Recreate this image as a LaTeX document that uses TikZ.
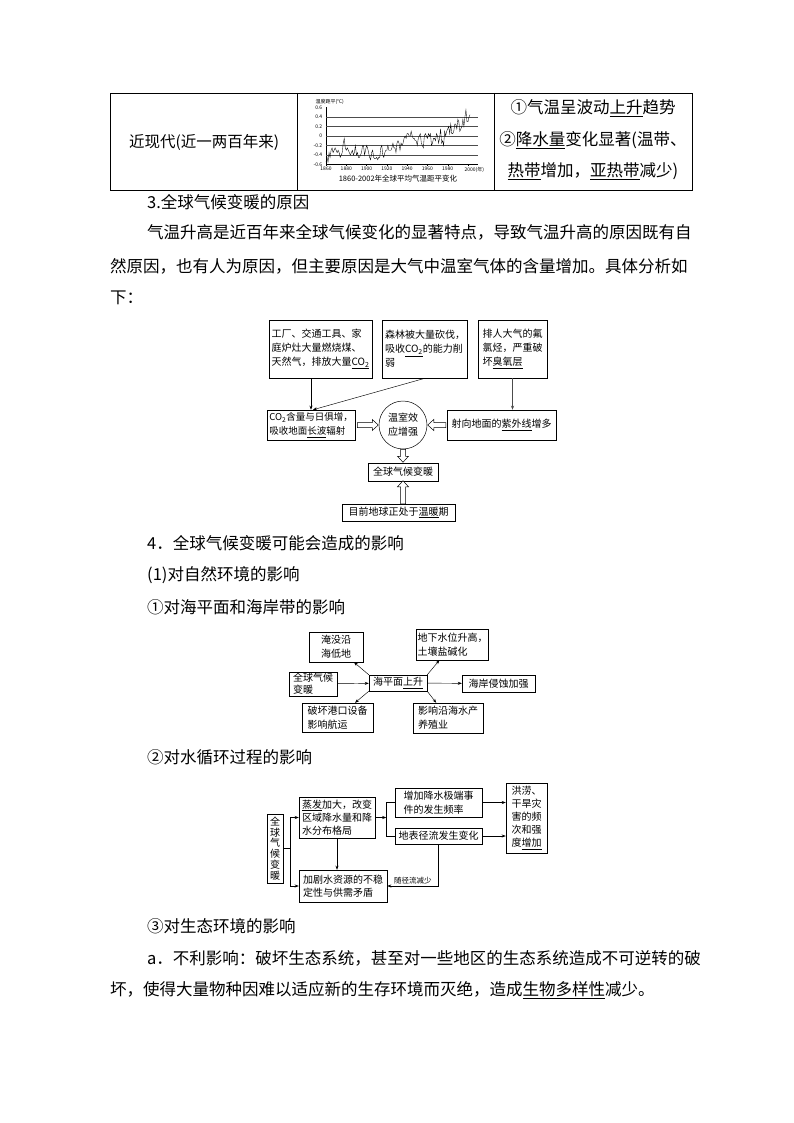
\documentclass[tikz,border=0pt]{standalone}
\usepackage{fontspec}
\setmainfont{Noto Sans CJK SC}
\usetikzlibrary{arrows.meta,calc}

\tikzset{
  box/.style={draw,line width=.5pt,inner sep=1.5pt,align=left,font=\fontsize{10}{14}\selectfont},
  body/.style={anchor=west,inner sep=0pt,font=\fontsize{16.5}{20}\selectfont},
  arr/.style={-{Stealth[length=4pt,width=3pt]},line width=.45pt},
  hollow/.pic={\draw[fill=white,line width=.5pt] (0,2.5) -- (#1-6,2.5) -- (#1-6,5.5) -- (#1,0) -- (#1-6,-5.5) -- (#1-6,-2.5) -- (0,-2.5) -- cycle;},
  chart/.style={font=\fontsize{5}{5}\selectfont,inner sep=.5pt}
}

\begin{document}
\begin{tikzpicture}[x=1pt,y=-1pt]
\useasboundingbox[fill=white] (0,0) rectangle (794,1123);
\draw[line width=.8pt] (110,93) rectangle (692,190);
\draw[line width=.8pt] (297,93) -- (297,190);
\draw[line width=.8pt] (494,93) -- (494,190);
\node[inner sep=0pt,font=\fontsize{15.5}{20}\selectfont] (era) at (204,142) {近现代(近一两百年来)};
\node[inner sep=0pt,align=center,font=\fontsize{16.5}{31.5}\selectfont] (trend) at (593,140) {①气温呈波动\underline{上升}趋势\\②\underline{降水量}变化显著(温带、\\\underline{热带}增加，\underline{亚热带}减少)};
\begin{scope}[shift={(326,136)},x=1.014pt,y=47.5pt]
\draw[line width=.4pt] (0,.6) -- (0,-.6) -- (150,-.6);
\foreach \v in {.4,.2,0,-.2,-.4}
  \draw[black!70,line width=.4pt] (0,\v) -- (150,\v);
\foreach \v/\t in {.6/0.6,.4/0.4,.2/0.2,0/0,-.2/-0.2,-.4/-0.4,-.6/-0.6}
  \node[chart,anchor=east] (yl\t) at (-3,\v) {\t};
\foreach \yr in {0,20,...,140}{
  \draw[line width=.3pt] (\yr,-.6) -- (\yr,-.64);
}
\foreach \yr/\t in {0/1860,20/1880,40/1900,60/1920,80/1940,100/1960,120/1980}
  \node[chart,anchor=north] (xl\t) at (\yr,-.64) {\t};
\node[chart,anchor=north west] (xl2000) at (136,-.64) {2000(年)};
\node[chart,anchor=west] (ttl) at (-11,.72) {温度距平(℃)};
\draw[line width=.35pt] plot coordinates {(0,-.55) (1,-.45) (2,-.55) (3,-.35) (4,-.45) (5,-.3) (6,-.25) (7,-.35) (8,-.3) (9,-.25) (10,-.3) (11,-.35) (12,-.3) (13,-.35) (14,-.45) (15,-.4) (16,-.35) (17,-.15) (18,-.05) (19,-.25) (20,-.3) (21,-.25) (22,-.3) (23,-.35) (24,-.4) (25,-.35) (26,-.3) (27,-.4) (28,-.35) (29,-.2) (30,-.4) (31,-.35) (32,-.45) (33,-.45) (34,-.4) (35,-.35) (36,-.2) (37,-.2) (38,-.4) (39,-.3) (40,-.2) (41,-.25) (42,-.35) (43,-.45) (44,-.5) (45,-.35) (46,-.3) (47,-.45) (48,-.48) (49,-.48) (50,-.45) (51,-.5) (52,-.45) (53,-.45) (54,-.25) (55,-.2) (56,-.4) (57,-.45) (58,-.35) (59,-.3) (60,-.3) (61,-.2) (62,-.3) (63,-.3) (64,-.3) (65,-.25) (66,-.15) (67,-.25) (68,-.25) (69,-.35) (70,-.15) (71,-.1) (72,-.15) (73,-.3) (74,-.15) (75,-.2) (76,-.15) (77,-.05) (78,0) (79,-.05) (80,.05) (81,.05) (82,0) (83,0) (84,.1) (85,0) (86,-.05) (87,-.05) (88,-.1) (89,-.1) (90,-.2) (91,-.05) (92,0) (93,.05) (94,-.15) (95,-.2) (96,-.25) (97,0) (98,.05) (99,0) (100,-.05) (101,.05) (102,0) (103,.05) (104,-.2) (105,-.15) (106,-.05) (107,-.05) (108,-.1) (109,.05) (110,0) (111,-.15) (112,-.05) (113,.15) (114,-.15) (115,-.1) (116,-.2) (117,.1) (118,0) (119,.1) (120,.15) (121,.2) (122,.05) (123,.25) (124,.05) (125,.05) (126,.1) (127,.25) (128,.25) (129,.15) (130,.35) (131,.3) (132,.1) (133,.15) (134,.2) (135,.35) (136,.2) (137,.4) (138,.55) (139,.3) (140,.3) (141,.4) (142,.45)};
\end{scope}
\node[inner sep=0pt,font=\fontsize{7.5}{8}\selectfont] (cap) at (398,179) {1860-2002年全球平均气温距平变化};
\node[body] (h3) at (147,202) {3.全球气候变暖的原因};
\node[body] (p1) at (147,232) {气温升高是近百年来全球气候变化的显著特点，导致气温升高的原因既有自};
\node[body] (p2) at (110,266) {然原因，也有人为原因，但主要原因是大气中温室气体的含量增加。具体分析如};
\node[body] (p3) at (110,298) {下：};
\node[box,minimum width=103pt,minimum height=58pt] (factory) at (320.5,349) {工厂、交通工具、家\\庭炉灶大量燃烧煤、\\天然气，排放大量\underline{CO\textsubscript{2}}};
\node[box,minimum width=85pt,minimum height=58pt] (forest) at (425,349) {森林被大量砍伐，\\吸收\underline{CO\textsubscript{2}}的能力削\\弱};
\node[box,minimum width=69pt,minimum height=58pt] (cfc) at (512.5,349) {排人大气的氟\\氯烃，严重破\\坏\underline{臭氧层}};
\node[box,minimum width=88pt,minimum height=30pt,inner sep=1pt,font=\fontsize{9.5}{14}\selectfont] (co2) at (311,425) {CO\textsubscript{2}含量与日俱增，\\吸收地面\underline{长波}辐射};
\node[draw,circle,line width=.5pt,minimum size=48pt,inner sep=0pt,align=center,font=\fontsize{10}{14}\selectfont] (ghe) at (403,425) {温室效\\应增强};
\node[box,minimum width=109pt,minimum height=30pt] (uv) at (501.5,425) {射向地面的\underline{紫外线}增多};
\node[box,minimum width=70pt,minimum height=18pt] (warm) at (403,472) {全球气候变暖};
\node[box,minimum width=113pt,minimum height=17pt] (now) at (398.5,512.5) {目前地球正处于\underline{温暖}期};
\draw[arr] (co2.north |- factory.south) -- (co2.north);
\draw[arr] (forest.south) -- ([xshift=2pt]co2.north);
\draw[arr,black!70] (cfc.south) -- (cfc.south |- uv.north);
\pic at ([xshift=2pt]co2.east) {hollow=21};
\pic[rotate=180] at ([xshift=-1pt]uv.west) {hollow=18};
\pic[rotate=-90] at (ghe.south) {hollow=13};
\pic[rotate=90] at (warm.south |- now.north) {hollow=23};
\node[body] (h4) at (147,543) {4．全球气候变暖可能会造成的影响};
\node[body] (s1) at (147,575) {(1)对自然环境的影响};
\node[body] (s2) at (147,607) {①对海平面和海岸带的影响};
\node[box,minimum width=54pt,minimum height=30pt] (drown) at (336,647) {淹没沿\\海低地};
\node[box,minimum width=71pt,minimum height=31pt,inner sep=1pt] (ground) at (452.5,644.5) {地下水位升高，\\土壤盐碱化};
\node[box,minimum width=48pt,minimum height=24pt,inner sep=1pt,font=\fontsize{10}{12}\selectfont] (gw2) at (313,684) {全球气候\\变暖};
\node[box,minimum width=58pt,minimum height=16pt] (sea) at (398,683) {海平面\underline{上升}};
\node[box,minimum width=73pt,minimum height=17pt] (erosion) at (498.5,683.5) {海岸侵蚀加强};
\node[box,minimum width=71pt,minimum height=29pt] (port) at (337.5,717.5) {破坏港口设备\\影响航运};
\node[box,minimum width=70pt,minimum height=30pt] (aqua) at (448,718) {影响沿海水产\\养殖业};
\draw[arr] (gw2) -- (sea);
\draw[arr] (sea) -- (erosion);
\draw[arr] (sea.north west) -- (drown);
\draw[arr] (sea.north east) -- (ground);
\draw[arr] (sea.south west) -- (port);
\draw[arr] (sea.south east) -- (aqua);
\node[body] (s3) at (147,757) {②对水循环过程的影响};
\node[box,minimum width=16pt,minimum height=69pt,inner sep=1pt,align=center,font=\fontsize{10}{10.8}\selectfont] (gw3) at (275,848.5) {全\\球\\气\\候\\变\\暖};
\node[box,minimum width=76pt,minimum height=41pt,inner sep=1pt,font=\fontsize{10}{13}\selectfont] (evap) at (337,817.5) {\underline{蒸发}加大，改变\\区域降水量和降\\水分布格局};
\node[box,minimum width=87pt,minimum height=29pt] (extreme) at (438.5,802.5) {增加降水极端事\\件的发生频率};
\node[box,minimum width=87pt,minimum height=16pt] (runoff) at (438.5,836) {地表径流发生变化};
\node[box,minimum width=41pt,minimum height=70pt,font=\fontsize{10}{13}\selectfont] (flood) at (526.5,818) {洪涝、\\干旱灾\\害的频\\次和强\\度\underline{增加}};
\node[box,minimum width=88pt,minimum height=32pt,font=\fontsize{10}{13}\selectfont] (water) at (343,886) {加剧水资源的不稳\\定性与供需矛盾};
\coordinate (j1) at ($(gw3.east)+(7,0)$);
\coordinate (j2) at ($(evap.east)+(11,0)$);
\draw[line width=.45pt] (gw3.east) -- (j1);
\draw[arr] (j1) |- (evap.west);
\draw[arr] (j1) |- (water.west);
\draw[arr] (evap.east) -- (j2);
\draw[line width=.45pt] (extreme.west) -| (j2) |- (runoff.west);
\draw[arr] (extreme.east) -- (extreme.east -| flood.west);
\draw[arr] (runoff.east) -- (runoff.east -| flood.west);
\draw[arr] (evap.south) -- (evap.south |- water.north);
\draw[arr] (runoff.south) |- node[pos=.75,above,inner sep=1.5pt,font=\fontsize{7.5}{8}\selectfont] (less) {随径流减少} (water.east);
\node[body] (s4) at (147,926) {③对生态环境的影响};
\node[body] (a1) at (147,958) {a．不利影响：破坏生态系统，甚至对一些地区的生态系统造成不可逆转的破};
\node[body] (a2) at (110,990) {坏，使得大量物种因难以适应新的生存环境而灭绝，造成\underline{生物多样性}减少。};
\end{tikzpicture}
\end{document}
